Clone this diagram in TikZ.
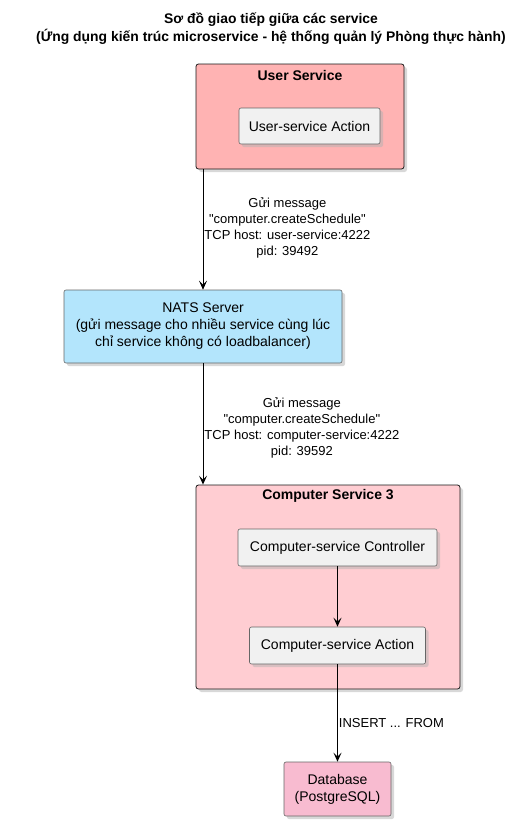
\documentclass[tikz,border=0pt]{standalone}
\usepackage{fontspec}
\setmainfont{Liberation Sans}[Ligatures=TeXOff]
\usepackage{tikz}
\usetikzlibrary{arrows.meta}
\usetikzlibrary{positioning}
\usetikzlibrary{shadows}
\definecolor{usercol}{HTML}{FFB3B3}
\definecolor{compcol}{HTML}{FFCDD2}
\definecolor{natscol}{HTML}{B3E5FC}
\definecolor{dbcol}{HTML}{F8BBD0}
\definecolor{partcol}{HTML}{F1F1F1}
\tikzstyle{svcbox}=[draw=black!90,line width=0.8pt,rounded corners=2.5pt,inner sep=0pt,drop shadow={shadow xshift=3pt,shadow yshift=-3pt,fill=black!30}]
\tikzstyle{part}=[draw=black!60,fill=partcol,line width=0.6pt,rounded corners=2pt,inner sep=0pt,font=\fontsize{14}{17}\selectfont,align=center,drop shadow={shadow xshift=3pt,shadow yshift=-3pt,fill=black!30}]
\tikzstyle{svctitle}=[font=\fontsize{14}{17}\selectfont\bfseries]
\tikzstyle{msglbl}=[font=\fontsize{13}{16}\selectfont,align=center,inner sep=1pt]

\begin{document}
\begin{tikzpicture}[x=1pt,y=-1pt,line width=0.9pt,>={Stealth[length=9pt,width=8pt,inset=4pt]}]
\useasboundingbox[fill=white] (0,0) rectangle (523,827);
\node[font=\fontsize{13.9}{18}\selectfont\bfseries,align=center] (title) at (271,28.5)
  {Sơ đồ giao tiếp giữa các service\\(Ứng dụng kiến trúc microservice - hệ thống quản lý Phòng thực hành)};

% user service
\node[svcbox,fill=usercol,minimum width=208pt,minimum height=105pt] (usersvc) at (300,116.5) {};
\node[svctitle] (userlbl) at (300,75) {User Service};
\node[part,minimum width=141pt,minimum height=36pt] (useract) at (309.5,126) {User-service Action};

\node[part,fill=natscol,minimum width=278pt,minimum height=73pt] (nats) at (203,326.5)
  {NATS Server\\(gửi message cho nhiều service cùng lúc\\chỉ service không có loadbalancer)};

% computer service
\node[svcbox,fill=compcol,minimum width=264pt,minimum height=204pt] (compsvc) at (328,587) {};
\node[svctitle] (complbl) at (328,496) {Computer Service 3};
\node[part,minimum width=199pt,minimum height=37pt] (compctl) at (337.5,547.5) {Computer-service Controller};
\node[part,minimum width=176pt,minimum height=37pt] (compact) at (337.5,645.5) {Computer-service Action};

\node[part,fill=dbcol,minimum width=107pt,minimum height=54pt] (db) at (337.5,789) {Database\\(PostgreSQL)};

\draw[->] (usersvc.south -| nats) -- (nats)
  node[msglbl,midway,anchor=west,yshift=2pt] (msg1) {Gửi message\\"computer.createSchedule"\\TCP host: user-service:4222\\pid: 39492};
\draw[->] (nats) -- (nats |- compsvc.north)
  node[msglbl,midway,anchor=west,yshift=-4pt] (msg2) {Gửi message\\"computer.createSchedule"\\TCP host: computer-service:4222\\pid: 39592};
\draw[->] (compctl) -- (compact);
\draw[->] (compact) -- (db)
  node[msglbl,pos=0.6,anchor=west] (sql) {INSERT ... FROM};
\end{tikzpicture}
\end{document}
